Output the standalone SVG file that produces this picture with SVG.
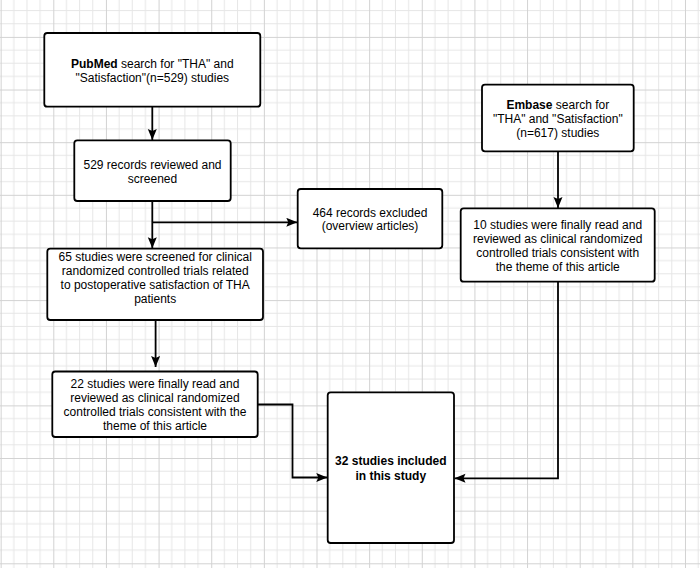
<svg xmlns="http://www.w3.org/2000/svg" width="700" height="568" viewBox="0 0 700 568">
  <defs>
    <pattern id="grid" patternUnits="userSpaceOnUse" x="0.66" y="36.9" width="52.64" height="52.64">
      <path d="M13.16,0V52.64M26.32,0V52.64M39.48,0V52.64M0,13.16H52.64M0,26.32H52.64M0,39.48H52.64" stroke="#e6e6e6" stroke-width="1" fill="none"/>
      <path d="M0.5,0V52.64M0,0.5H52.64" stroke="#d2d2d2" stroke-width="1" fill="none"/>
    </pattern>
    <marker id="arr" markerUnits="userSpaceOnUse" markerWidth="12" markerHeight="10" refX="11" refY="4.5" orient="auto">
      <path d="M0,0 L11,4.5 L0,9 L2,4.5 z" fill="#000"/>
    </marker>
  </defs>
  <style>
    .box { fill: #fff; stroke: #000; stroke-width: 1.8; }
    .t { font-family: "Liberation Sans", Arial, sans-serif; font-size: 12px; fill: #000; text-anchor: middle; }
    .b { font-weight: bold; }
    .c { fill: none; stroke: #000; stroke-width: 1.8; }
  </style>
  <rect width="700" height="568" fill="#fff"/>
  <rect width="700" height="568" fill="url(#grid)"/>

  <g id="connectors">
    <path class="c" d="M152.3,106.7 V140" marker-end="url(#arr)"/>
    <path class="c" d="M152.3,201 V248.3" marker-end="url(#arr)"/>
    <path class="c" d="M152.3,222.3 H297.3" marker-end="url(#arr)"/>
    <path class="c" d="M155.6,320 V367" marker-end="url(#arr)"/>
    <path class="c" d="M558,151.3 V208" marker-end="url(#arr)"/>
    <path class="c" d="M257.7,404.5 H292.5 V477.5 H327.3" marker-end="url(#arr)"/>
    <path class="c" d="M558,281.7 V478.3 H454.5" marker-end="url(#arr)"/>
  </g>

  <g id="pubmed">
    <rect class="box" x="44.3" y="33" width="216" height="73.7" rx="3"/>
    <text class="t" x="152.3" y="67.5"><tspan class="b">PubMed</tspan> search for "THA" and</text>
    <text class="t" x="152.3" y="81.5">"Satisfaction"(n=529) studies</text>
  </g>

  <g id="records529">
    <rect class="box" x="74.3" y="140.3" width="156.4" height="60.7" rx="3"/>
    <text class="t" x="152.5" y="169">529 records reviewed and</text>
    <text class="t" x="152.5" y="183">screened</text>
  </g>

  <g id="excluded">
    <rect class="box" x="297.7" y="189" width="144.6" height="59.3" rx="3"/>
    <text class="t" x="370" y="216.7">464 records excluded</text>
    <text class="t" x="370" y="230.2">(overview articles)</text>
  </g>

  <g id="screened65">
    <rect class="box" x="47.3" y="248.7" width="215.7" height="71.3" rx="3"/>
    <text class="t" x="155.2" y="261.3">65 studies were screened for clinical</text>
    <text class="t" x="155.2" y="275.3">randomized controlled trials related</text>
    <text class="t" x="155.2" y="289.3">to postoperative satisfaction of THA</text>
    <text class="t" x="155.2" y="303.3">patients</text>
  </g>

  <g id="final22">
    <rect class="box" x="52.3" y="371.5" width="205.4" height="65.5" rx="3"/>
    <text class="t" x="155" y="388.3">22 studies were finally read and</text>
    <text class="t" x="155" y="402.3">reviewed as clinical randomized</text>
    <text class="t" x="155" y="416.3">controlled trials consistent with the</text>
    <text class="t" x="155" y="430.3">theme of this article</text>
  </g>

  <g id="embase">
    <rect class="box" x="482" y="84.7" width="151.7" height="66.6" rx="3"/>
    <text class="t" x="557.8" y="108.7"><tspan class="b">Embase</tspan> search for</text>
    <text class="t" x="557.8" y="122.7">"THA" and "Satisfaction"</text>
    <text class="t" x="557.8" y="136.7">(n=617) studies</text>
  </g>

  <g id="final10">
    <rect class="box" x="460.7" y="208.3" width="194" height="73.4" rx="3"/>
    <text class="t" x="557.7" y="228.7">10 studies were finally read and</text>
    <text class="t" x="557.7" y="242.7">reviewed as clinical randomized</text>
    <text class="t" x="557.7" y="256.7">controlled trials consistent with</text>
    <text class="t" x="557.7" y="270.7">the theme of this article</text>
  </g>

  <g id="included32">
    <rect class="box" x="327.7" y="392.3" width="126.3" height="150.7" rx="3"/>
    <text class="t b" x="390.8" y="465">32 studies included</text>
    <text class="t b" x="390.8" y="479.7">in this study</text>
  </g>
</svg>
